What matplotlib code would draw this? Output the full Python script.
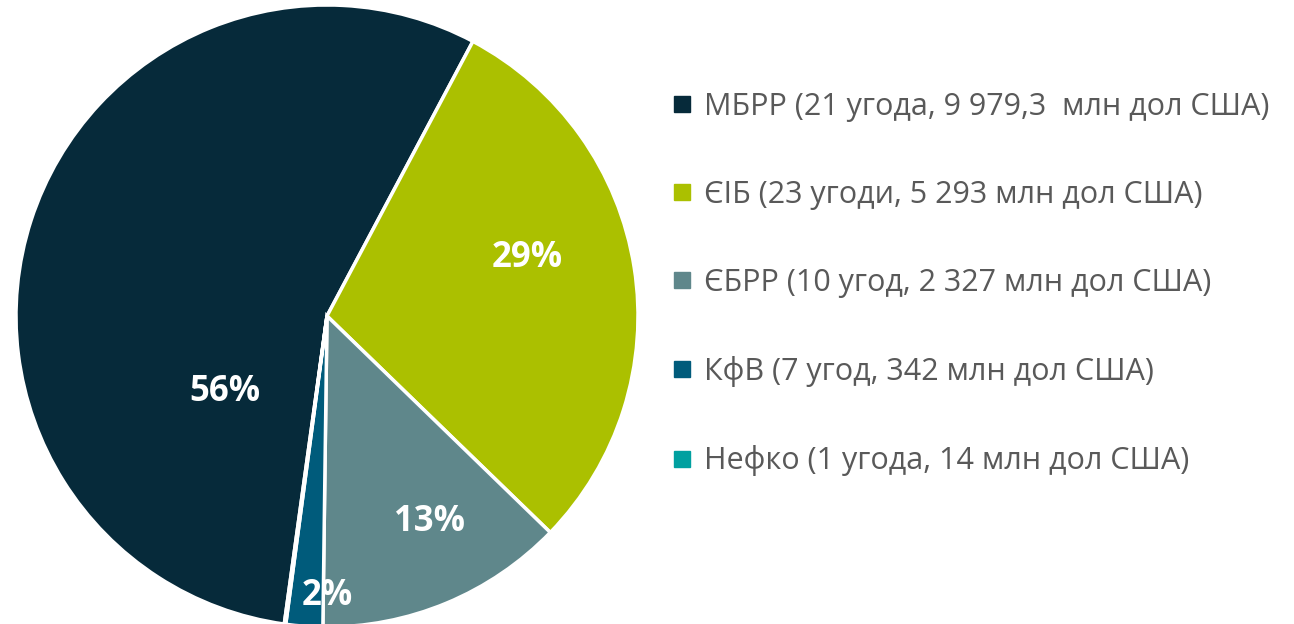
import matplotlib
matplotlib.use("Agg")
import matplotlib.pyplot as plt
from matplotlib.lines import Line2D

plt.rcParams['font.family'] = ['Open Sans', 'DejaVu Sans']

categories = ["МБРР (21 угода, 9 979,3  млн дол США)",
              "ЄІБ (23 угоди, 5 293 млн дол США)",
              "ЄБРР (10 угод, 2 327 млн дол США)",
              "КфВ (7 угод, 342 млн дол США)",
              "Нефко (1 угода, 14 млн дол США)"]
values = [9979.3, 5293, 2327, 342, 14]
pct_labels = ["56%", "29%", "13%", "2%", ""]
colors = ["#062A3A", "#ABC000", "#5F878B", "#005B7B", "#00A0A0"]
# label positions in pie-radius units
label_pos = [(-0.328, -0.244), (0.643, 0.186), (0.331, -0.662), (0.0, -0.90), None]

W, H = 1294, 624
fig = plt.figure(figsize=(W / 100, H / 100), dpi=100)
cx, cy, r = 327, 316, 311
ax = fig.add_axes([(cx - r) / W, (H - cy - r) / H, 2 * r / W, 2 * r / H])
wedges, _ = ax.pie(values, colors=colors, startangle=-97.9, counterclock=False,
                   radius=1.0, wedgeprops=dict(edgecolor="white", linewidth=2.5))
ax.set_xlim(-1, 1)
ax.set_ylim(-1, 1)
ax.set_aspect('equal')
ax.axis('off')
for lab, pos in zip(pct_labels, label_pos):
    if pos is None:
        continue
    ax.text(pos[0], pos[1], lab, color="white", fontsize=25, fontweight="bold",
            ha="center", va="center")

handles = [Line2D([0], [0], marker='s', linestyle='none', markersize=11,
                  markerfacecolor=c, markeredgecolor=c) for c in colors]
fig.legend(handles, categories, loc="upper left", bbox_to_anchor=(669 / W, 1 - 92 / H),
           frameon=False, fontsize=22, labelcolor="#595959", handletextpad=0.3,
           handlelength=0.85, labelspacing=1.9, borderaxespad=0, borderpad=0)

fig.savefig("out.png", dpi=100)
